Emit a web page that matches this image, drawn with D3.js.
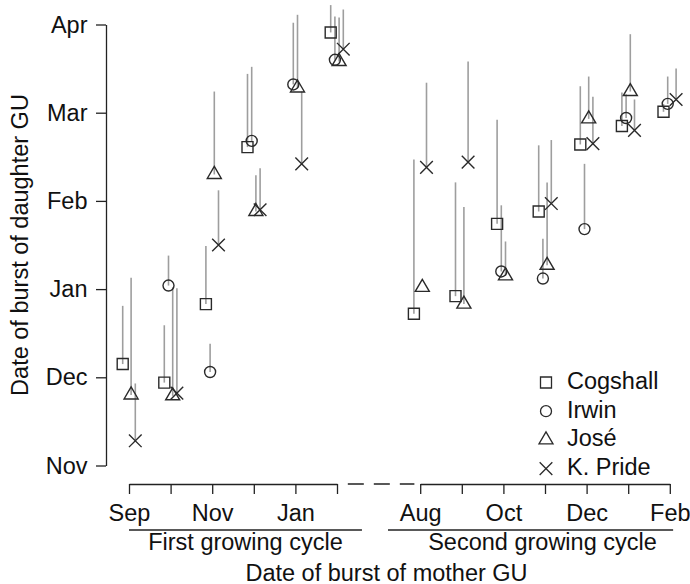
<!DOCTYPE html>
<html>
<head>
<meta charset="utf-8">
<script src="https://cdn.jsdelivr.net/npm/d3@7"></script>
<style>
  html, body { margin: 0; padding: 0; background: #fff; }
  svg { display: block; }
  text { font-family: "Liberation Sans", Arial, Helvetica, sans-serif; fill: #111; }
</style>
</head>
<body>
<svg id="chart" width="690" height="584"></svg>
<script>
// ---------------- DATA ----------------
// Cultivars (legend order)
const cultivars = ["Cogshall", "Irwin", "José", "K. Pride"];

// Mother GU burst month position (0 = Sep of first cycle ... 5 = Feb; 7 = Aug of second cycle ... 13 = Feb)
const motherPos = [0, 1, 2, 3, 4, 5, 7, 8, 9, 10, 11, 12, 13];

// Daughter GU burst date, in months after 1 Nov (0 = Nov, 1 = Dec, ... 5 = Apr)
const cogshallBurst = [1.15, 0.94, 1.83, 3.61, null, 4.91, 1.72, 1.92, 2.74, 2.88, 3.64, 3.85, 4.01];
const cogshallUpper = [1.81, 1.59, 2.49, 4.44, null, 5.22, 3.47, 3.21, 3.92, 3.63, 4.30, 4.23, 4.10];
const irwinBurst    = [null, 2.04, 1.06, 3.68, 4.32, 4.60, null, null, 2.20, 2.12, 2.68, 3.94, 4.10];
const irwinUpper    = [null, 2.38, 1.38, 4.52, 5.02, 5.09, null, null, 2.95, 2.57, 3.42, 4.21, 4.41];
const joseBurst     = [0.80, 0.79, 3.30, 2.88, 4.28, 4.58, 2.02, 1.83, 2.15, 2.27, 3.93, 4.24, null];
const joseUpper     = [2.13, 2.02, 4.24, 3.29, 5.11, 5.08, 2.02, 2.93, 2.54, 3.21, 4.41, 4.89, null];
const prideBurst    = [0.28, 0.82, 2.50, 2.90, 3.42, 4.72, 3.38, 3.44, null, 2.97, 3.65, 3.80, 4.15];
const prideUpper    = [0.93, 2.01, 3.12, 3.37, 4.24, 5.17, 4.34, 4.58, null, 3.69, 4.18, 4.15, 4.50];

// Tick labels
const yTickLabels = ["Nov", "Dec", "Jan", "Feb", "Mar", "Apr"];
const xTicksFirst = [0, 1, 2, 3, 4, 5];
const xTicksSecond = [7, 8, 9, 10, 11, 12, 13];
const xTickLabels = {0: "Sep", 2: "Nov", 4: "Jan", 7: "Aug", 9: "Oct", 11: "Dec", 13: "Feb"};
const cycleLabels = ["First growing cycle", "Second growing cycle"];
const xTitle = "Date of burst of mother GU";
const yTitle = "Date of burst of daughter GU";

// ---------------- BUILD ----------------
const burstBy = [cogshallBurst, irwinBurst, joseBurst, prideBurst];
const upperBy = [cogshallUpper, irwinUpper, joseUpper, prideUpper];
const points = [];
cultivars.forEach((c, ci) => {
  motherPos.forEach((m, i) => {
    const b = burstBy[ci][i];
    if (b != null) points.push({cultivar: c, m: m, burst: b, upper: upperBy[ci][i]});
  });
});

const svg = d3.select("#chart");
const FS = 23.5;

const x = d3.scaleLinear().domain([0, 13]).range([129, 669.8]);
const y = d3.scaleLinear().domain([0, 5]).range([465.5, 24.5]);
const offset = d3.scalePoint().domain(cultivars).range([-6.3, 6.3]);

// custom symbol shapes (R pch 0, 1, 2, 4)
const symSquare = { draw(ctx, size) { const s = Math.sqrt(size) / 2; ctx.rect(-s, -s, 2 * s, 2 * s); } };
const symCircle = { draw(ctx, size) { const r = Math.sqrt(size) / 2; ctx.moveTo(r, 0); ctx.arc(0, 0, r, 0, 2 * Math.PI); } };
const symTriangle = { draw(ctx, size) {
  const w = Math.sqrt(size) * 1.17 / 2, h = Math.sqrt(size);
  ctx.moveTo(0, -2 * h / 3); ctx.lineTo(w, h / 3); ctx.lineTo(-w, h / 3); ctx.closePath(); } };
const symX = { draw(ctx, size) { const r = Math.sqrt(size) / 2;
  ctx.moveTo(-r, -r); ctx.lineTo(r, r); ctx.moveTo(r, -r); ctx.lineTo(-r, r); } };
const shape = d3.scaleOrdinal().domain(cultivars).range([symSquare, symCircle, symTriangle, symX]);
const shapeSize = d3.scaleOrdinal().domain(cultivars).range([121, 121, 144, 160]);
const symbolPath = c => d3.symbol().type(shape(c)).size(shapeSize(c))();

// ---------------- AXES ----------------
const yAxis = d3.axisLeft(y).tickValues(d3.range(6)).tickFormat(i => yTickLabels[i])
  .tickSize(10).tickSizeOuter(0).tickPadding(8.5);
const gy = svg.append("g").attr("transform", "translate(106,0)").call(yAxis);

const xFirst = d3.scaleLinear().domain([0, 5]).range([x(0), x(5)]);
const xSecond = d3.scaleLinear().domain([7, 13]).range([x(7), x(13)]);
const fmt = v => xTickLabels[v] || "";
const gx1 = svg.append("g").attr("transform", "translate(0,484)")
  .call(d3.axisBottom(xFirst).tickValues(xTicksFirst).tickFormat(fmt).tickSize(10).tickSizeOuter(0).tickPadding(10));
const gx2 = svg.append("g").attr("transform", "translate(0,484)")
  .call(d3.axisBottom(xSecond).tickValues(xTicksSecond).tickFormat(fmt).tickSize(10).tickSizeOuter(0).tickPadding(10));

[gy, gx1, gx2].forEach(g => {
  g.attr("font-size", FS).attr("font-family", null);
  g.selectAll("path, line").attr("stroke", "#222").attr("stroke-width", 1.3);
  g.selectAll("text").attr("fill", "#111");
});

// dashed break between cycles
svg.append("line")
  .attr("x1", x(5.26)).attr("x2", x(6.86)).attr("y1", 484).attr("y2", 484)
  .attr("stroke", "#222").attr("stroke-width", 1.3).attr("stroke-dasharray", "16,10");

// cycle underlines and labels
const cycles = [
  {label: cycleLabels[0], from: 0, to: 5.6, mid: 2.8},
  {label: cycleLabels[1], from: 6.226, to: 13.08, mid: 9.94}
];
cycles.forEach(c => {
  svg.append("line").attr("x1", x(c.from)).attr("x2", x(c.to)).attr("y1", 530).attr("y2", 530)
    .attr("stroke", "#222").attr("stroke-width", 1.3);
  svg.append("text").attr("x", x(c.mid)).attr("y", 550).attr("text-anchor", "middle")
    .attr("font-size", FS).text(c.label);
});

svg.append("text").attr("x", x(6.19)).attr("y", 580.5).attr("text-anchor", "middle")
  .attr("font-size", FS).text(xTitle);
svg.append("text").attr("transform", `translate(28,${y(2.5)}) rotate(-90)`)
  .attr("text-anchor", "middle").attr("font-size", FS).text(yTitle);

// ---------------- MARKS ----------------
svg.append("g").selectAll("line").data(points).join("line")
  .attr("x1", d => x(d.m) + offset(d.cultivar)).attr("x2", d => x(d.m) + offset(d.cultivar))
  .attr("y1", d => y(d.burst)).attr("y2", d => y(d.upper))
  .attr("stroke", "#9e9e9e").attr("stroke-width", 1.6);

svg.append("g").selectAll("path").data(points).join("path")
  .attr("transform", d => `translate(${x(d.m) + offset(d.cultivar)},${y(d.burst)})`)
  .attr("d", d => symbolPath(d.cultivar))
  .attr("fill", "none").attr("stroke", "#2a2a2a").attr("stroke-width", 1.4);

// ---------------- LEGEND ----------------
const legend = svg.append("g").attr("transform", "translate(546,389)");
cultivars.forEach((c, i) => {
  const row = legend.append("g").attr("transform", `translate(0,${i * 28.7})`);
  row.append("path").attr("transform", "translate(0,-6.5)").attr("d", symbolPath(c))
    .attr("fill", "none").attr("stroke", "#2a2a2a").attr("stroke-width", 1.3);
  row.append("text").attr("x", 21).attr("y", 0).attr("font-size", FS).text(c);
});
</script>
</body>
</html>
